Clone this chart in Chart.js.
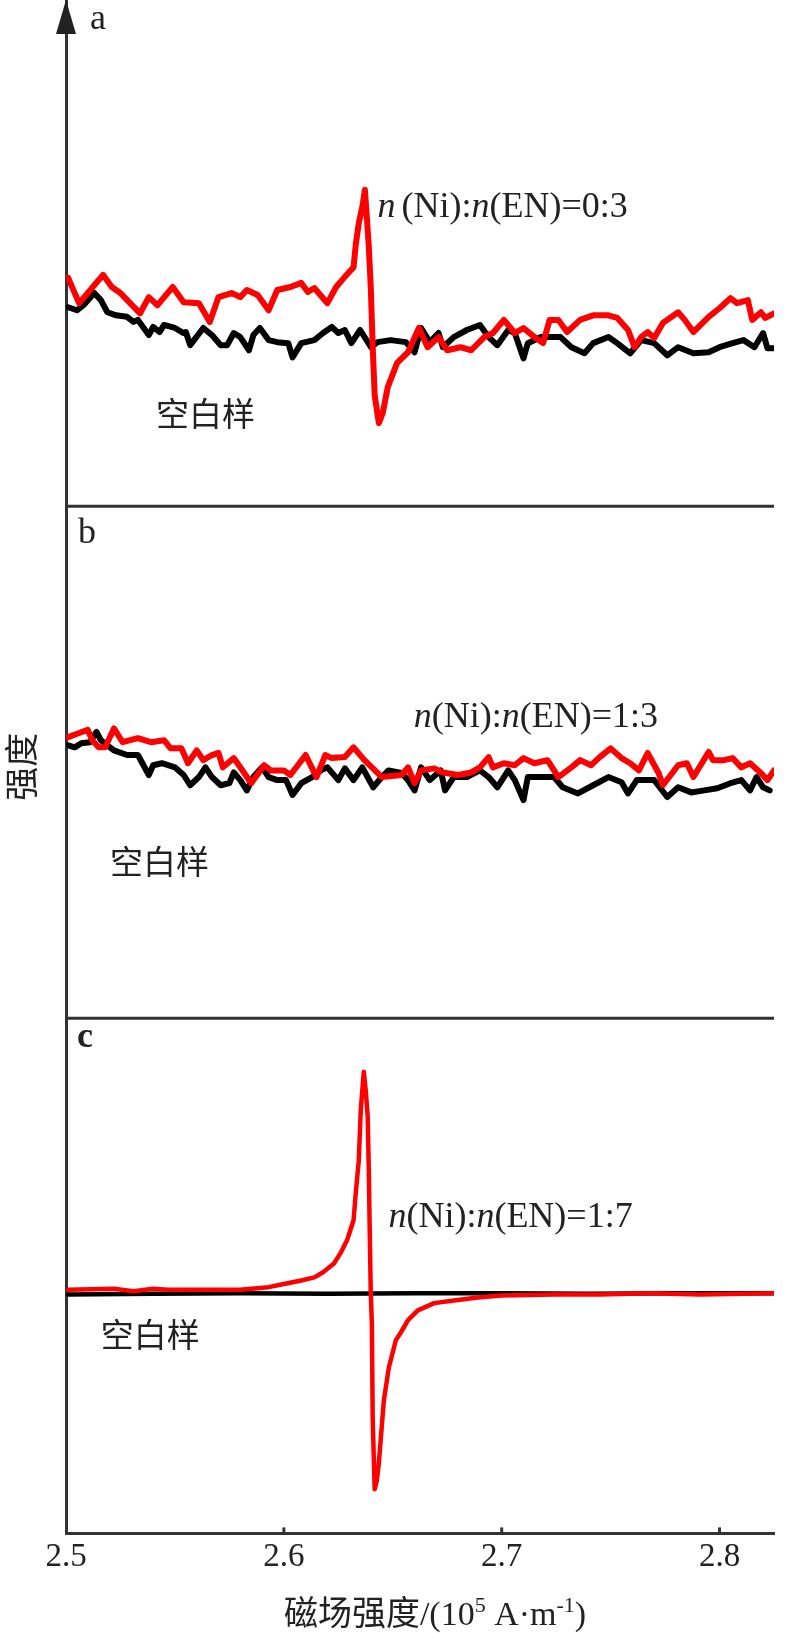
<!DOCTYPE html>
<html>
<head>
<meta charset="utf-8">
<script src="https://cdn.jsdelivr.net/npm/chart.js@4.4.1/dist/chart.umd.min.js"></script>
<style>
html, body { margin: 0; padding: 0; background: #fff; }
</style>
</head>
<body>
<canvas id="myChart" width="800" height="1633"></canvas>
<script>
// field axis (10^5 A/m)
var fieldMin = 2.5;
var fieldMax = 2.825;
var fieldTicks = [2.5, 2.6, 2.7, 2.8];

var panelNames = ['a', 'b', 'c'];
var ratioLabels = ['0:3', '1:3', '1:7'];
var blankLabel = '空白样';
var xTitleParts = ['磁场强度/(10', '5', ' A·m', '-1', ')'];
var yTitle = '强度';

// intensity, arbitrary units (0 = bottom of each panel, 100 = top)
// panel a  n(Ni):n(EN)=0:3
var sampleA = [[2.501,45.1],[2.506,40.1],[2.510,42.1],[2.517,45.7],[2.521,43.3],[2.525,42.1],[2.534,38.1],[2.538,41.3],
  [2.542,39.7],[2.549,43.3],[2.554,40.3],[2.561,40.1],[2.566,36.4],[2.570,41.3],[2.576,42.1],[2.580,41.3],[2.583,42.7],
  [2.588,41.7],[2.593,38.7],[2.597,42.7],[2.603,43.3],[2.608,44.1],[2.611,42.3],[2.614,43.1],[2.620,40.1],[2.624,43.3],
  [2.628,45.3],[2.632,47.2],[2.633,51.6],[2.6344,55.9],[2.6362,59.5],[2.6372,62.5],[2.6381,57.1],[2.6390,51.2],
  [2.6399,43.3],[2.6408,31.4],[2.6417,21.9],[2.6436,16.4],[2.6454,18.4],[2.6477,23.5],[2.652,28.3],[2.657,30.4],
  [2.662,35.2],[2.666,31.4],[2.671,33.4],[2.675,30.8],[2.681,31.4],[2.686,30.8],[2.692,33.4],[2.696,34.2],[2.701,36.8],
  [2.706,34.2],[2.710,35.2],[2.715,33.4],[2.719,32.2],[2.722,36.8],[2.726,36.8],[2.730,34.4],[2.736,36.8],[2.742,37.7],
  [2.749,37.7],[2.753,37.2],[2.758,34.8],[2.761,31.4],[2.764,33.4],[2.767,34.4],[2.770,33.2],[2.774,36.2],[2.781,38.3],
  [2.784,36.8],[2.788,34.4],[2.795,37.4],[2.800,39.1],[2.805,41.1],[2.808,40.1],[2.813,40.7],[2.815,36.8],[2.819,38.3],
  [2.821,37.2],[2.825,38.1]];
var blankA = [[2.501,39.3],[2.505,38.7],[2.508,39.7],[2.513,42.1],[2.516,40.7],[2.519,38.3],[2.523,37.7],[2.528,37.4],
  [2.531,36.4],[2.533,36.8],[2.538,33.8],[2.540,35.4],[2.543,34.4],[2.545,35.8],[2.550,35.2],[2.554,34.2],[2.555,34.4],
  [2.557,31.8],[2.563,35.2],[2.567,33.8],[2.571,31.8],[2.574,31.8],[2.577,34.2],[2.580,33.4],[2.584,30.8],[2.586,33.8],
  [2.589,35.2],[2.593,32.8],[2.597,32.4],[2.602,32.2],[2.604,29.4],[2.608,32.2],[2.614,32.8],[2.618,34.2],[2.622,35.4],
  [2.625,34.2],[2.628,34.8],[2.631,32.2],[2.635,34.8],[2.640,31.4],[2.643,32.4],[2.649,32.8],[2.656,32.4],[2.660,30.4],
  [2.663,35.2],[2.667,32.4],[2.671,34.2],[2.673,31.4],[2.678,33.4],[2.684,34.8],[2.690,35.8],[2.694,33.4],[2.698,31.8],
  [2.703,34.8],[2.706,34.2],[2.710,29.2],[2.712,32.2],[2.718,33.4],[2.727,33.4],[2.732,31.4],[2.738,30.2],[2.742,32.2],
  [2.749,33.4],[2.753,32.2],[2.759,30.2],[2.764,32.8],[2.770,32.2],[2.776,29.8],[2.781,31.4],[2.788,30.2],[2.795,30.4],
  [2.800,31.4],[2.806,32.2],[2.811,32.8],[2.816,31.4],[2.820,34.2],[2.822,31.2],[2.825,31.2]];

// panel b  n(Ni):n(EN)=1:3
var sampleB = [[2.501,54.9],[2.506,55.7],[2.510,56.3],[2.512,54.3],[2.515,52.9],[2.518,52.9],[2.522,56.6],[2.526,53.9],
  [2.533,54.7],[2.539,53.9],[2.545,54.3],[2.548,52.7],[2.553,52.7],[2.556,49.8],[2.560,52.3],[2.563,50.4],[2.567,51.4],
  [2.570,51.8],[2.572,49.0],[2.577,50.8],[2.580,49.0],[2.585,45.9],[2.591,49.4],[2.594,48.4],[2.600,48.4],[2.603,47.5],
  [2.610,51.4],[2.615,47.1],[2.619,51.4],[2.622,50.8],[2.628,51.0],[2.632,52.9],[2.637,50.4],[2.645,47.1],[2.654,47.5],
  [2.657,49.0],[2.660,45.9],[2.663,48.4],[2.669,48.8],[2.673,48.0],[2.680,47.5],[2.686,48.0],[2.690,49.0],[2.694,51.0],
  [2.696,49.0],[2.701,49.8],[2.706,49.4],[2.710,50.8],[2.715,49.8],[2.721,50.4],[2.726,47.1],[2.732,49.0],[2.736,50.4],
  [2.741,49.4],[2.745,51.0],[2.750,52.7],[2.755,50.8],[2.759,49.8],[2.763,48.4],[2.767,51.8],[2.772,47.9],[2.774,45.5],
  [2.781,49.4],[2.785,49.8],[2.788,47.1],[2.795,52.0],[2.797,50.4],[2.802,50.4],[2.806,50.8],[2.810,49.0],[2.814,49.8],
  [2.819,47.9],[2.822,46.5],[2.825,48.4]];
var blankB = [[2.501,53.3],[2.504,52.9],[2.507,53.7],[2.511,53.9],[2.514,55.9],[2.516,54.3],[2.519,53.3],[2.522,52.3],
  [2.528,51.4],[2.533,51.4],[2.538,47.5],[2.540,49.4],[2.544,49.8],[2.550,49.0],[2.554,47.5],[2.557,45.5],[2.561,47.1],
  [2.564,49.0],[2.567,47.1],[2.571,45.5],[2.575,45.9],[2.577,48.0],[2.580,46.5],[2.583,44.5],[2.586,47.1],[2.590,49.0],
  [2.593,47.1],[2.597,46.5],[2.601,46.5],[2.604,43.6],[2.608,45.9],[2.613,47.1],[2.617,48.4],[2.620,49.0],[2.625,46.5],
  [2.628,48.8],[2.632,46.5],[2.636,49.0],[2.641,45.1],[2.645,47.1],[2.648,48.4],[2.654,47.9],[2.657,46.5],[2.660,44.5],
  [2.663,49.0],[2.667,46.5],[2.672,48.4],[2.674,44.5],[2.678,47.1],[2.684,47.1],[2.690,48.4],[2.694,47.1],[2.698,45.1],
  [2.703,48.4],[2.706,46.5],[2.710,42.6],[2.712,47.1],[2.718,47.1],[2.724,47.1],[2.728,45.1],[2.735,43.9],[2.742,45.5],
  [2.749,47.1],[2.755,46.1],[2.758,43.9],[2.762,46.5],[2.770,46.5],[2.776,43.2],[2.781,45.1],[2.787,44.1],[2.793,44.5],
  [2.799,44.9],[2.805,45.9],[2.810,46.5],[2.814,44.5],[2.817,47.1],[2.820,45.1],[2.823,44.5]];

// panel c  n(Ni):n(EN)=1:7
var sampleC = [[2.501,47.3],[2.522,47.5],[2.531,47.0],[2.540,47.5],[2.547,47.3],[2.580,47.3],[2.593,47.8],[2.600,48.4],
  [2.608,49.1],[2.614,49.7],[2.618,50.7],[2.623,52.4],[2.626,54.4],[2.629,56.9],[2.632,60.8],[2.633,66.0],[2.6344,72.4],
  [2.6353,82.1],[2.6362,87.0],[2.6367,89.6],[2.6376,86.0],[2.6385,80.8],[2.6390,70.5],[2.6394,59.4],[2.6399,46.6],
  [2.6404,40.8],[2.6408,21.9],[2.6417,8.6],[2.6427,10.3],[2.6436,13.6],[2.6459,25.8],[2.6482,32.2],[2.6514,37.5],
  [2.6537,39.0],[2.657,41.4],[2.6615,43.3],[2.669,44.7],[2.678,45.2],[2.689,45.8],[2.700,46.2],[2.724,46.4],[2.745,46.4],
  [2.768,46.6],[2.791,46.4],[2.825,46.6]];
var blankC = [[2.501,46.4],[2.540,46.5],[2.580,46.6],[2.620,46.5],[2.660,46.6],[2.700,46.6],[2.740,46.5],[2.780,46.6],
  [2.825,46.6]];

var serif = "'Liberation Serif', 'Times New Roman', serif";
var cjk = "'Noto Sans CJK SC', sans-serif";
var ink = '#222';
var axisColor = '#333';

function toPoints(arr) {
    return arr.map(function (p) { return {x: p[0], y: p[1]}; });
}

function series(arr, axis, color, width, order) {
    return {
        data: toPoints(arr),
        yAxisID: axis,
        borderColor: color,
        borderWidth: width,
        borderJoinStyle: 'round',
        borderCapStyle: 'round',
        pointRadius: 0,
        tension: 0,
        fill: false,
        order: order
    };
}

function panelAxis(weight) {
    return {
        type: 'linear',
        position: 'left',
        stack: 'panels',
        stackWeight: weight,
        min: 0,
        max: 100,
        grid: {display: false, drawTicks: false},
        ticks: {display: false},
        border: {color: axisColor, width: 3}
    };
}

// italic n in the ratio labels
function drawRatio(ctx, x, y, ratio, gap) {
    var parts = [['n', true], ['(Ni):', false], ['n', true], ['(EN)=' + ratio, false]];
    parts.forEach(function (p, i) {
        ctx.font = (p[1] ? 'italic ' : '') + '36px ' + serif;
        ctx.fillText(p[0], x, y);
        x += ctx.measureText(p[0]).width + (i === 0 ? gap : 0);
    });
}

// x title with raised exponents
function drawXTitle(ctx, cx, y) {
    var fonts = xTitleParts.map(function (t, i) {
        return i % 2 === 1 ? '22px ' + serif : '34px ' + serif + ", 'Noto Sans CJK SC'";
    });
    var total = 0;
    xTitleParts.forEach(function (t, i) {
        ctx.font = fonts[i];
        total += ctx.measureText(t).width;
    });
    var x = cx - total / 2;
    ctx.textAlign = 'left';
    ctx.textBaseline = 'alphabetic';
    xTitleParts.forEach(function (t, i) {
        ctx.font = fonts[i];
        ctx.fillText(t, x, i % 2 === 1 ? y - 13 : y);
        x += ctx.measureText(t).width;
    });
}

var decor = {
    id: 'decor',
    afterDraw: function (chart) {
        var ctx = chart.ctx;
        var area = chart.chartArea;
        var xs = chart.scales.x;
        var ids = ['ya', 'yb', 'yc'];
        ctx.save();

        // panel separators
        ctx.strokeStyle = axisColor;
        ctx.lineWidth = 3;
        ['ya', 'yb'].forEach(function (id) {
            var yb = chart.scales[id].bottom;
            ctx.beginPath();
            ctx.moveTo(area.left, yb);
            ctx.lineTo(area.right, yb);
            ctx.stroke();
        });

        // inward tick marks on the field axis
        fieldTicks.forEach(function (v) {
            if (v === fieldMin) return;
            var px = xs.getPixelForValue(v);
            ctx.beginPath();
            ctx.moveTo(px, area.bottom);
            ctx.lineTo(px, area.bottom - 6);
            ctx.stroke();
        });

        // arrow on the intensity axis
        ctx.fillStyle = ink;
        ctx.beginPath();
        ctx.moveTo(area.left, area.top);
        ctx.lineTo(area.left - 10, area.top + 34);
        ctx.lineTo(area.left + 10, area.top + 34);
        ctx.closePath();
        ctx.fill();

        // panel letters
        var letterPos = [[24, 29, 'normal'], [12, 37, 'normal'], [11, 29, 'bold']];
        ctx.textBaseline = 'alphabetic';
        ctx.textAlign = 'left';
        ids.forEach(function (id, i) {
            var s = chart.scales[id];
            ctx.font = letterPos[i][2] + ' 36px ' + serif;
            ctx.fillText(panelNames[i], area.left + letterPos[i][0], s.top + letterPos[i][1]);
        });

        // ratio labels, placed in data units
        var ratioPos = [[2.643, 57.1, 6], [2.6596, 56.8, 0], [2.648, 59.4, 0]];
        ids.forEach(function (id, i) {
            var s = chart.scales[id];
            drawRatio(ctx, xs.getPixelForValue(ratioPos[i][0]), s.getPixelForValue(ratioPos[i][1]), ratioLabels[i], ratioPos[i][2]);
        });

        // blank sample labels
        var blankPos = [[2.5413, 18.4], [2.5202, 30.7], [2.516, 38.6]];
        ctx.font = '33px ' + cjk;
        ctx.textBaseline = 'middle';
        ids.forEach(function (id, i) {
            var s = chart.scales[id];
            ctx.fillText(blankLabel, xs.getPixelForValue(blankPos[i][0]), s.getPixelForValue(blankPos[i][1]));
        });

        // field title
        drawXTitle(ctx, (area.left + area.right) / 2 + 15, area.bottom + 92);

        // intensity title
        ctx.translate(21, (area.top + area.bottom) / 2);
        ctx.rotate(-Math.PI / 2);
        ctx.textAlign = 'center';
        ctx.textBaseline = 'middle';
        ctx.font = '34px ' + cjk;
        ctx.fillText(yTitle, 0, 0);

        ctx.restore();
    }
};

var ctx = document.getElementById('myChart').getContext('2d');
var myChart = new Chart(ctx, {
    type: 'line',
    data: {
        datasets: [
            series(sampleA, 'ya', '#ff0000', 6, 0),
            series(blankA, 'ya', '#000000', 6, 1),
            series(sampleB, 'yb', '#ff0000', 6, 0),
            series(blankB, 'yb', '#000000', 6, 1),
            series(sampleC, 'yc', '#ff0000', 4.5, 0),
            series(blankC, 'yc', '#000000', 4.5, 1)
        ]
    },
    options: {
        responsive: false,
        animation: false,
        layout: {padding: {left: 66, right: 26, top: 0, bottom: 52}},
        plugins: {legend: {display: false}, tooltip: {enabled: false}},
        scales: {
            x: {
                type: 'linear',
                min: fieldMin,
                max: fieldMax,
                afterBuildTicks: function (scale) {
                    scale.ticks = fieldTicks.map(function (v) { return {value: v}; });
                },
                grid: {display: false, drawTicks: false},
                border: {color: axisColor, width: 3},
                ticks: {
                    color: ink,
                    padding: 4,
                    maxRotation: 0,
                    font: {family: serif, size: 33},
                    callback: function (v) { return v.toFixed(1); }
                }
            },
            yc: panelAxis(515),
            yb: panelAxis(512),
            ya: panelAxis(506)
        }
    },
    plugins: [decor]
});
</script>
</body>
</html>
